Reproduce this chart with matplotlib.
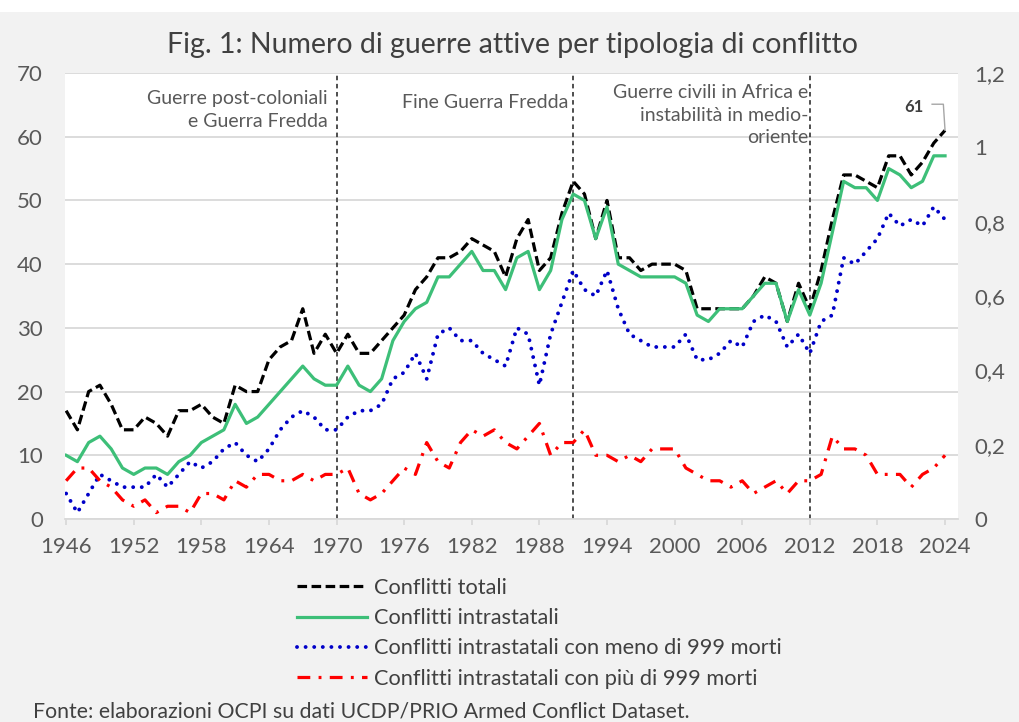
import matplotlib
matplotlib.use('Agg')
import matplotlib.pyplot as plt
from matplotlib.patches import Rectangle

plt.rcParams['font.family'] = ['Lato', 'DejaVu Sans']

# anni 1946-2024
years = list(range(1946, 2025))

# conflitti totali
totali = [17, 14, 20, 21, 18, 14, 14, 16, 15, 13,      # 1946-55
          17, 17, 18, 16, 15, 21, 20, 20, 25, 27,      # 1956-65
          28, 33, 26, 29, 26, 29, 26, 26, 28, 30,      # 1966-75
          32, 36, 38, 41, 41, 42, 44, 43, 42, 38,      # 1976-85
          44, 47, 39, 41, 48, 53, 51, 44, 50, 41,      # 1986-95
          41, 39, 40, 40, 40, 39, 33, 33, 33, 33,      # 1996-2005
          33, 35, 38, 37, 31, 37, 33, 39, 47, 54,      # 2006-15
          54, 53, 52, 57, 57, 54, 56, 59, 61]          # 2016-24

# conflitti intrastatali
intrastatali = [10, 9, 12, 13, 11, 8, 7, 8, 8, 7,
                9, 10, 12, 13, 14, 18, 15, 16, 18, 20,
                22, 24, 22, 21, 21, 24, 21, 20, 22, 28,
                31, 33, 34, 38, 38, 40, 42, 39, 39, 36,
                41, 42, 36, 39, 47, 51, 50, 44, 49, 40,
                39, 38, 38, 38, 38, 37, 32, 31, 33, 33,
                33, 35, 37, 37, 31, 36, 32, 37, 45, 53,
                52, 52, 50, 55, 54, 52, 53, 57, 57]

# intrastatali con meno di 999 morti
meno_999 = [4, 1, 4, 7, 6, 5, 5, 5, 7, 5,
            7, 9, 8, 9, 11, 12, 10, 9, 11, 14,
            16, 17, 16, 14, 14, 16, 17, 17, 18, 22,
            23, 26, 22, 29, 30, 28, 28, 26, 25, 24,
            30, 29, 21, 29, 34, 39, 36, 35, 39, 33,
            29, 28, 27, 27, 27, 29, 25, 25, 26, 28,
            27, 31, 32, 31, 27, 29, 26, 31, 32, 41,
            40, 42, 44, 48, 46, 47, 46, 49, 47]

# intrastatali con piu di 999 morti
piu_999 = [6, 8, 8, 6, 5, 3, 2, 3, 1, 2,
           2, 1, 4, 4, 3, 6, 5, 7, 7, 6,
           6, 7, 6, 7, 7, 8, 4, 3, 4, 6,
           8, 7, 12, 9, 8, 12, 14, 13, 14, 12,
           11, 13, 15, 10, 12, 12, 14, 10, 10, 9,
           10, 9, 11, 11, 11, 8, 7, 6, 6, 5,
           6, 4, 5, 6, 4, 6, 6, 7, 13, 11,
           11, 10, 7, 7, 7, 5, 7, 8, 10]

x_ticks = list(range(1946, 2025, 6))
right_ticks = [0, 0.2, 0.4, 0.6, 0.8, 1.0, 1.2]
right_labels = ['0', '0,2', '0,4', '0,6', '0,8', '1', '1,2']

eventi = [1970, 1991, 2012]
note = ['Guerre post-coloniali\ne Guerra Fredda',
        'Fine Guerra Fredda',
        'Guerre civili in Africa e\ninstabilità in medio-\noriente']

GRIGIO = '#595959'
SCURO = '#404040'

fig = plt.figure(figsize=(10.2, 7.22), dpi=100, facecolor='#f2f2f2')
# ... striscia bianca in alto ...
fig.patches.append(Rectangle((0, 1 - 12 / 722), 1, 12 / 722, transform=fig.transFigure,
                             facecolor='white', edgecolor='none', zorder=0))

ax = fig.add_axes([65 / 1020, 1 - 519 / 722, 893 / 1020, 446 / 722])
ax.set_facecolor('white')

ax.plot(years, totali, color='black', lw=2.3, ls=(0, (3, 1.4)), label='Conflitti totali', zorder=3)
ax.plot(years, intrastatali, color='#3dbf78', lw=2.3, label='Conflitti intrastatali', zorder=4)
ax.plot(years, meno_999, color='#0000c8', lw=2.8, ls=(0, (0.01, 2.2)), dash_capstyle='round',
        label='Conflitti intrastatali con meno di 999 morti', zorder=5)
ax.plot(years, piu_999, color='#ff0000', lw=2.3, ls=(0, (4, 2.6, 0.9, 2.6)),
        label='Conflitti intrastatali con più di 999 morti', zorder=6)

# ... linee verticali dei periodi ...
for yr in eventi:
    ax.axvline(yr, color=SCURO, lw=1.3, ls=(0, (2.5, 2)), zorder=2)

# ... note dei periodi ...
ax.text(1969.25, 64.2, note[0], ha='right', va='center', color=GRIGIO, fontsize=14,
        linespacing=1.4)
ax.text(1990.55, 65.3, note[1], ha='right', va='center', color=GRIGIO, fontsize=14)
ax.text(2011.85, 63.4, note[2], ha='right', va='center', color=GRIGIO, fontsize=14,
        linespacing=1.4)

# ... etichetta ultimo valore ...
ax.text(2021.25, totali[-1] + 3.7, str(totali[-1]), ha='center', va='center',
        color=SCURO, fontsize=12, fontweight='bold')
ax.plot([2022.85, 2023.85, years[-1]], [totali[-1] + 4.1, totali[-1] + 4.1, totali[-1]],
        color='#a6a6a6', lw=1.0, zorder=7)

ax.set_xlim(1945.9, 2025.15)
ax.set_ylim(0, 70)
ax.set_xticks(x_ticks)
ax.set_yticks(range(0, 71, 10))
ax.yaxis.grid(True, color='#d9d9d9', lw=1.3)
ax.set_axisbelow(True)
for s in ['left', 'right', 'top']:
    ax.spines[s].set_visible(False)
ax.spines['bottom'].set_color('#d9d9d9')
ax.spines['bottom'].set_linewidth(1.3)
ax.tick_params(axis='x', colors='#d9d9d9', length=4, width=1.3, pad=9, labelsize=16,
               labelcolor=GRIGIO)
ax.tick_params(axis='y', length=0, pad=16, labelsize=16, labelcolor=GRIGIO)

ax2 = ax.twinx()
ax2.set_ylim(0, 1.2)
ax2.set_yticks(right_ticks)
ax2.set_yticklabels(right_labels)
ax2.tick_params(axis='y', length=0, pad=12, labelsize=16, labelcolor=GRIGIO)
for s in ax2.spines.values():
    s.set_visible(False)

fig.text(0.502, 1 - 45 / 722, 'Fig. 1: Numero di guerre attive per tipologia di conflitto',
         ha='center', va='center', fontsize=20.5, color=SCURO)

handles, labels = ax.get_legend_handles_labels()
fig.legend(handles, labels, loc='upper left', bbox_to_anchor=(297 / 1020, 1 - 578 / 722),
           frameon=False, fontsize=15.7, handlelength=3.2, handletextpad=0.32,
           labelspacing=0.47, borderpad=0, borderaxespad=0, labelcolor=SCURO)

fig.text(33 / 1020, 1 - 711 / 722,
         'Fonte: elaborazioni OCPI su dati UCDP/PRIO Armed Conflict Dataset.',
         ha='left', va='center', fontsize=15.3, color=SCURO)

fig.savefig('out.png', dpi=100, facecolor=fig.get_facecolor())
